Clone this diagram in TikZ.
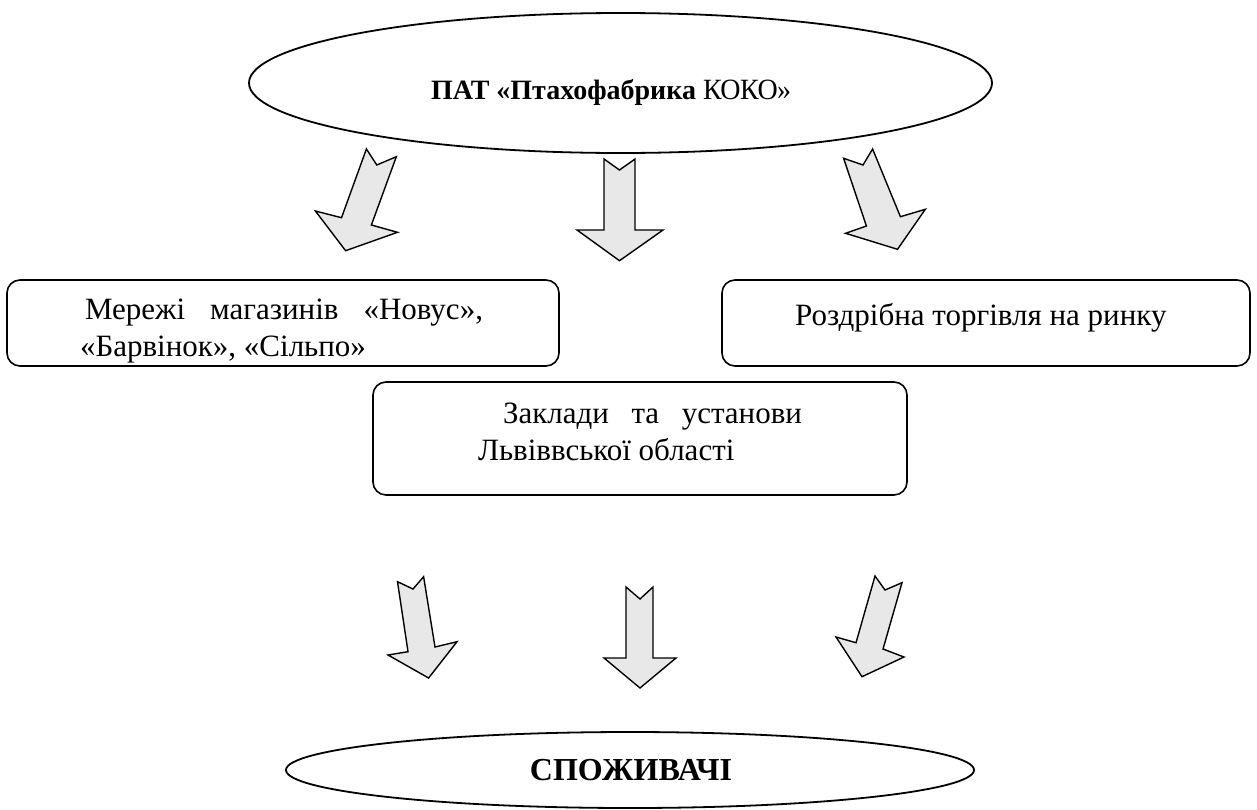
\documentclass[tikz,border=0pt]{standalone}
\usepackage{fontspec}
\setmainfont{Liberation Serif}
\usetikzlibrary{shapes.geometric}
\begin{document}
\begin{tikzpicture}[x=1pt,y=-1pt,
  oval/.style={draw=black, line width=1.8pt, ellipse, inner sep=0pt, outer sep=0pt},
  roundbox/.style={draw=black, line width=1.6pt, rectangle, rounded corners=13pt, inner sep=0pt, outer sep=0pt},
  txt/.style={inner sep=0pt, outer sep=0pt, font=\fontsize{31}{36}\selectfont, anchor=base west},
  blockarrow/.style={draw=black, line width=1.4pt, fill=black!9, line join=miter}
]
\useasboundingbox (0,0) rectangle (1257,809);

% top ellipse
\node[oval, minimum width=743pt, minimum height=140pt] (top) at (620.5,83) {};
\node[inner sep=0pt, anchor=base west, font=\fontsize{28}{32}\selectfont] (toptxt) at (431,99)
  {\textbf{ПАТ «Птахофабрика }\scalebox{1}[1.05]{\addfontfeature{LetterSpace=-2}КОКО»}};

% upper arrows
\draw[blockarrow] (366.4,149) -- (376.8,165) -- (396.3,156.7) -- (371.4,225) -- (397.5,232.3)
  -- (345.6,250.7) -- (315.4,211) -- (341.5,217.7) -- cycle;
\draw[blockarrow] (604,159) -- (619.5,170) -- (635,159) -- (635,230) -- (663,230)
  -- (619.5,260.7) -- (577,230) -- (604,230) -- cycle;
\draw[blockarrow] (872.6,149) -- (863,165) -- (843.6,158.3) -- (866.4,226) -- (845.6,233.3)
  -- (897.5,249.3) -- (925.3,209.3) -- (900.4,216.7) -- cycle;

% boxes
\node[roundbox, minimum width=552pt, minimum height=86pt] (b1) at (283,323) {};
\node[txt] (b1l1) at (85,319) {\makebox[398pt][s]{Мережі магазинів «Новус»,}};
\node[txt] (b1l2) at (80,356) {«Барвінок», «Сільпо»};

\node[roundbox, minimum width=528pt, minimum height=86pt] (b2) at (986,323) {};
\node[txt] (b2l1) at (795,325) {Роздрібна торгівля на ринку};

\node[roundbox, minimum width=534pt, minimum height=113pt] (b3) at (640,438.5) {};
\node[txt] (b3l1) at (503,423) {\makebox[299pt][s]{Заклади та установи}};
\node[txt] (b3l2) at (478,460) {Львіввської області};

% lower arrows
\draw[blockarrow] (397.5,581.7) -- (413,589) -- (423.6,576.7) -- (435,647) -- (457,641.7)
  -- (428.6,678) -- (388,655) -- (408,651.7) -- cycle;
\draw[blockarrow] (626,587) -- (640,599) -- (653,587) -- (653,658) -- (676,658)
  -- (640,688) -- (604,658) -- (626,658) -- cycle;
\draw[blockarrow] (902,582.7) -- (885,590) -- (875,576) -- (856,642.7) -- (836,637)
  -- (862,676.7) -- (904,657) -- (883,649) -- cycle;

% bottom ellipse
\node[oval, minimum width=688pt, minimum height=76pt] (bot) at (630,770) {};
\node[inner sep=0pt, anchor=base, font=\fontsize{32}{36}\selectfont\bfseries] (bottxt) at (631,780) {СПОЖИВАЧІ};
\end{tikzpicture}
\end{document}
